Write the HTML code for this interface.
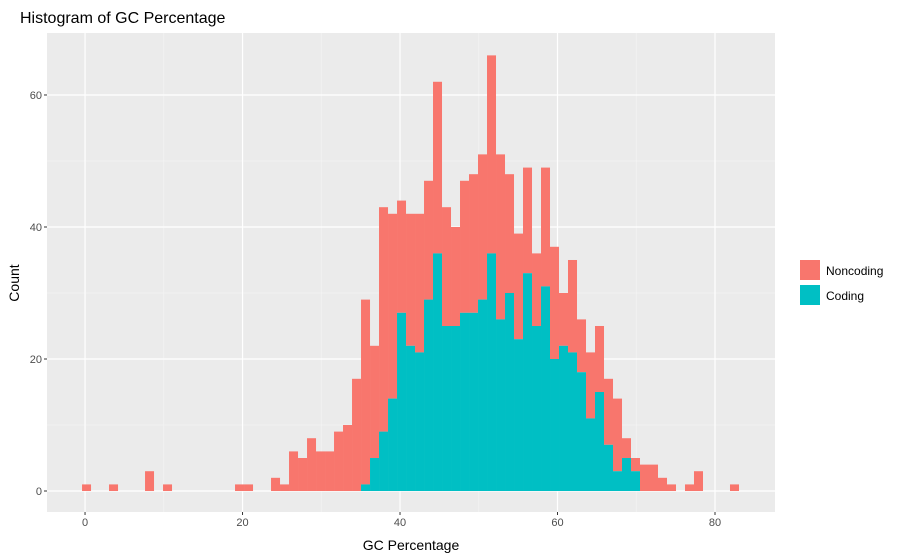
<!DOCTYPE html>
<html><head><meta charset="utf-8"><style>
body{margin:0;background:#fff;}
svg{display:block;font-family:"Liberation Sans",Arial,sans-serif;}
</style></head><body>
<svg id="chart" width="900" height="560">
<rect width="900" height="560" fill="#fff"/>
<text x="20" y="23" font-size="16" fill="#000">Histogram of GC Percentage</text>
<rect x="47" y="33" width="728" height="479" fill="#ebebeb"/>
<g id="grid"></g>
<g id="bars"></g>
<g id="ticks"></g>
<text x="411" y="550" font-size="14" text-anchor="middle" fill="#000">GC Percentage</text>
<text x="19" y="283" font-size="14" text-anchor="middle" fill="#000" transform="rotate(-90 19 283)">Count</text>
<g>
<rect x="800" y="260" width="20" height="20" fill="#f8766d"/>
<text x="826" y="275" font-size="12" fill="#000">Noncoding</text>
<rect x="800" y="285" width="20" height="20" fill="#00bfc4"/>
<text x="826" y="300" font-size="12" fill="#000">Coding</text>
</g>
</svg>
<script>
const binStart = -0.381;
const binWidth = 8/7;
const totalCounts = [1,0,0,1,0,0,0,3,0,1,0,0,0,0,0,0,0,1,1,0,0,2,1,6,5,8,6,6,9,10,17,29,22,43,42,44,42,42,47,62,43,40,47,48,51,66,51,48,39,49,36,49,37,30,35,26,21,25,17,14,8,5,4,4,2,1,0,1,3,0,0,0,1];
const codingStartBin = 31;
const codingCounts = [1,5,9,14,27,22,21,29,36,25,25,27,27,29,36,26,30,23,33,25,31,20,22,21,18,11,15,7,3,5,3];
const xTicks = [0,20,40,60,80];
const yTicks = [0,20,40,60];

const NS="http://www.w3.org/2000/svg";
const X0=47,X1=775,Y0=33,Y1=512;
const xMin=-4.83,xMax=87.62,yMin=-3.18,yMax=69.39;
function sx(v){return X0+(v-xMin)/(xMax-xMin)*(X1-X0);}
function sy(v){return Y1-(v-yMin)/(yMax-yMin)*(Y1-Y0);}
function mk(tag,attrs,parent){const e=document.createElementNS(NS,tag);for(const k in attrs)e.setAttribute(k,attrs[k]);parent.appendChild(e);return e;}
const grid=document.getElementById('grid'),bars=document.getElementById('bars'),ticks=document.getElementById('ticks');
for(let v=10;v<=70;v+=20){const l=mk('line',{x1:sx(v),x2:sx(v),y1:Y0,y2:Y1,stroke:'#f5f5f5','stroke-width':0.6},grid);

}
for(let v=10;v<=50;v+=20){const l=mk('line',{x1:X0,x2:X1,y1:sy(v),y2:sy(v),stroke:'#f5f5f5','stroke-width':0.6},grid);

}
xTicks.forEach(v=>{const l=mk('line',{x1:sx(v),x2:sx(v),y1:Y0,y2:Y1,stroke:'#fff','stroke-width':1.2},grid);


const tk=mk('line',{x1:sx(v),x2:sx(v),y1:Y1,y2:Y1+3,stroke:'#333','stroke-width':1},ticks);


const t=mk('text',{x:sx(v),y:Y1+14,'font-size':11,'text-anchor':'middle',fill:'#4d4d4d'},ticks);t.textContent=v;

});
yTicks.forEach(v=>{const l=mk('line',{x1:X0,x2:X1,y1:sy(v),y2:sy(v),stroke:'#fff','stroke-width':1.2},grid);


const tk=mk('line',{x1:X0-3,x2:X0,y1:sy(v),y2:sy(v),stroke:'#333','stroke-width':1},ticks);


const t=mk('text',{x:X0-5,y:sy(v)+4,'font-size':11,'text-anchor':'end',fill:'#4d4d4d'},ticks);t.textContent=v;

});
totalCounts.forEach((tot,k)=>{
  const ci=k-codingStartBin;
  const cod=(ci>=0&&ci<codingCounts.length)?codingCounts[ci]:0;
  const xl=sx(binStart+k*binWidth),xr=sx(binStart+(k+1)*binWidth);
  if(tot>cod){const r=mk('rect',{x:xl,y:sy(tot),width:xr-xl,height:sy(cod)-sy(tot),fill:'#f8766d'},bars);
  
  }
  if(cod>0){const r=mk('rect',{x:xl,y:sy(cod),width:xr-xl,height:sy(0)-sy(cod),fill:'#00bfc4'},bars);
  
  }
});
</script>
</body></html>
